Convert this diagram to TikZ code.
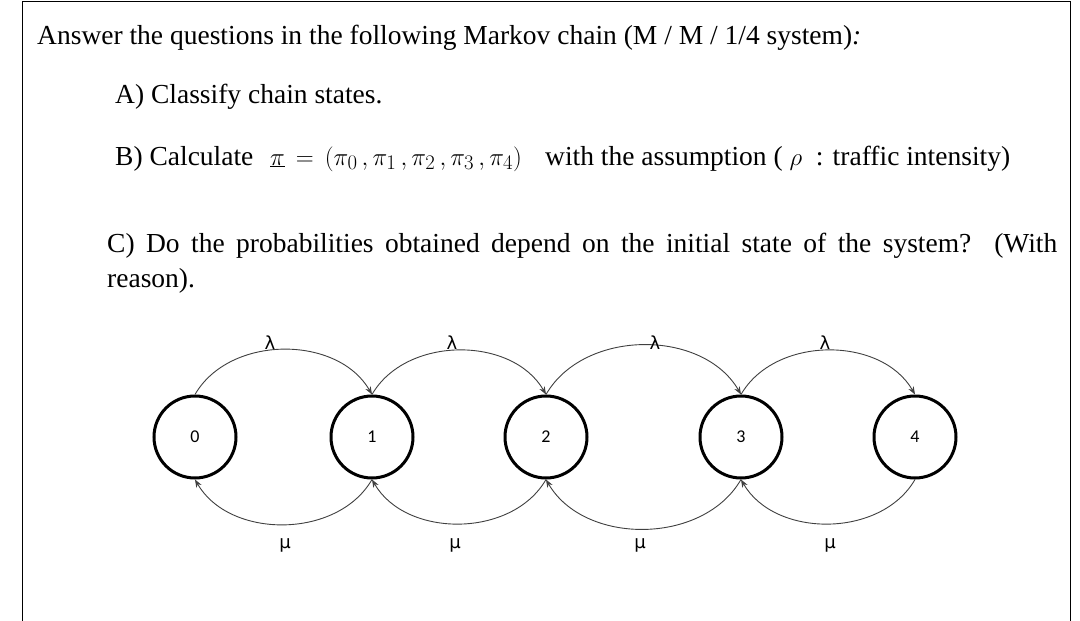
\documentclass[tikz,border=0pt]{standalone}
\usepackage{fontspec}
\setmainfont{Liberation Serif}
\newfontfamily\stfont{Carlito}
\newfontfamily\grk{DejaVu Sans}
\usetikzlibrary{arrows.meta}
\begin{document}
\begin{tikzpicture}[x=1pt,y=-1pt,
  txt/.style={anchor=base west,inner sep=0pt,font=\fontsize{27.5}{35}\selectfont},
  st/.style={circle,draw,line width=3pt,minimum size=82pt,inner sep=0pt,font=\stfont\fontsize{18}{18}\selectfont},
  lab/.style={font=\grk\fontsize{18}{18}\selectfont,inner sep=0pt},
  arc/.style={draw=black!75,line width=0.9pt,-{Stealth[length=8pt,width=6pt]}}]
\useasboundingbox (0,0) rectangle (1080,621);
\fill[white] (0,0) rectangle (1080,621);
\draw[line width=1pt] (22,621) -- (22,1) -- (1070,1) -- (1070,621);
\node[txt] (t1) at (37,45) {Answer the questions in the following Markov chain (M / M / 1/4 system)\textit{:}};
\node[txt] (ta) at (115,103) {A) Classify chain states.};
\node[txt] (tb) at (115,165) {B) Calculate};
\node[txt,font=\fontsize{31}{35}\selectfont] (tf) at (270,165) {$\underline{\pi}\,=\,(\pi_0\,,\pi_1\,,\pi_2\,,\pi_3\,,\pi_4)$};
\node[txt] (tw) at (545,165) {with the assumption ( $\rho$ \ : traffic intensity)};
\node[txt] (tc) at (107,252) {\makebox[950pt][s]{C) Do the probabilities obtained depend on the initial state of the system? (With}};
\node[txt] (tc2) at (107,287) {reason).};
\foreach \n/\x in {0/195,1/372,2/546,3/741,4/915}{\node[st] (s\n) at (\x,437) {\n};}
\foreach \a/\b in {0/1,1/2,2/3,3/4}{
  \draw[arc] (s\a.north) to[out=60,in=120] (s\b.north);
  \draw[arc] (s\b.south) to[out=-120,in=-60] (s\a.south);}
\foreach \x [count=\i] in {270,452,655,825}{\node[lab] (l\i) at (\x,343) {λ};}
\foreach \x [count=\i] in {285,455,640,830}{\node[lab] (m\i) at (\x,545) {μ};}
\end{tikzpicture}
\end{document}
